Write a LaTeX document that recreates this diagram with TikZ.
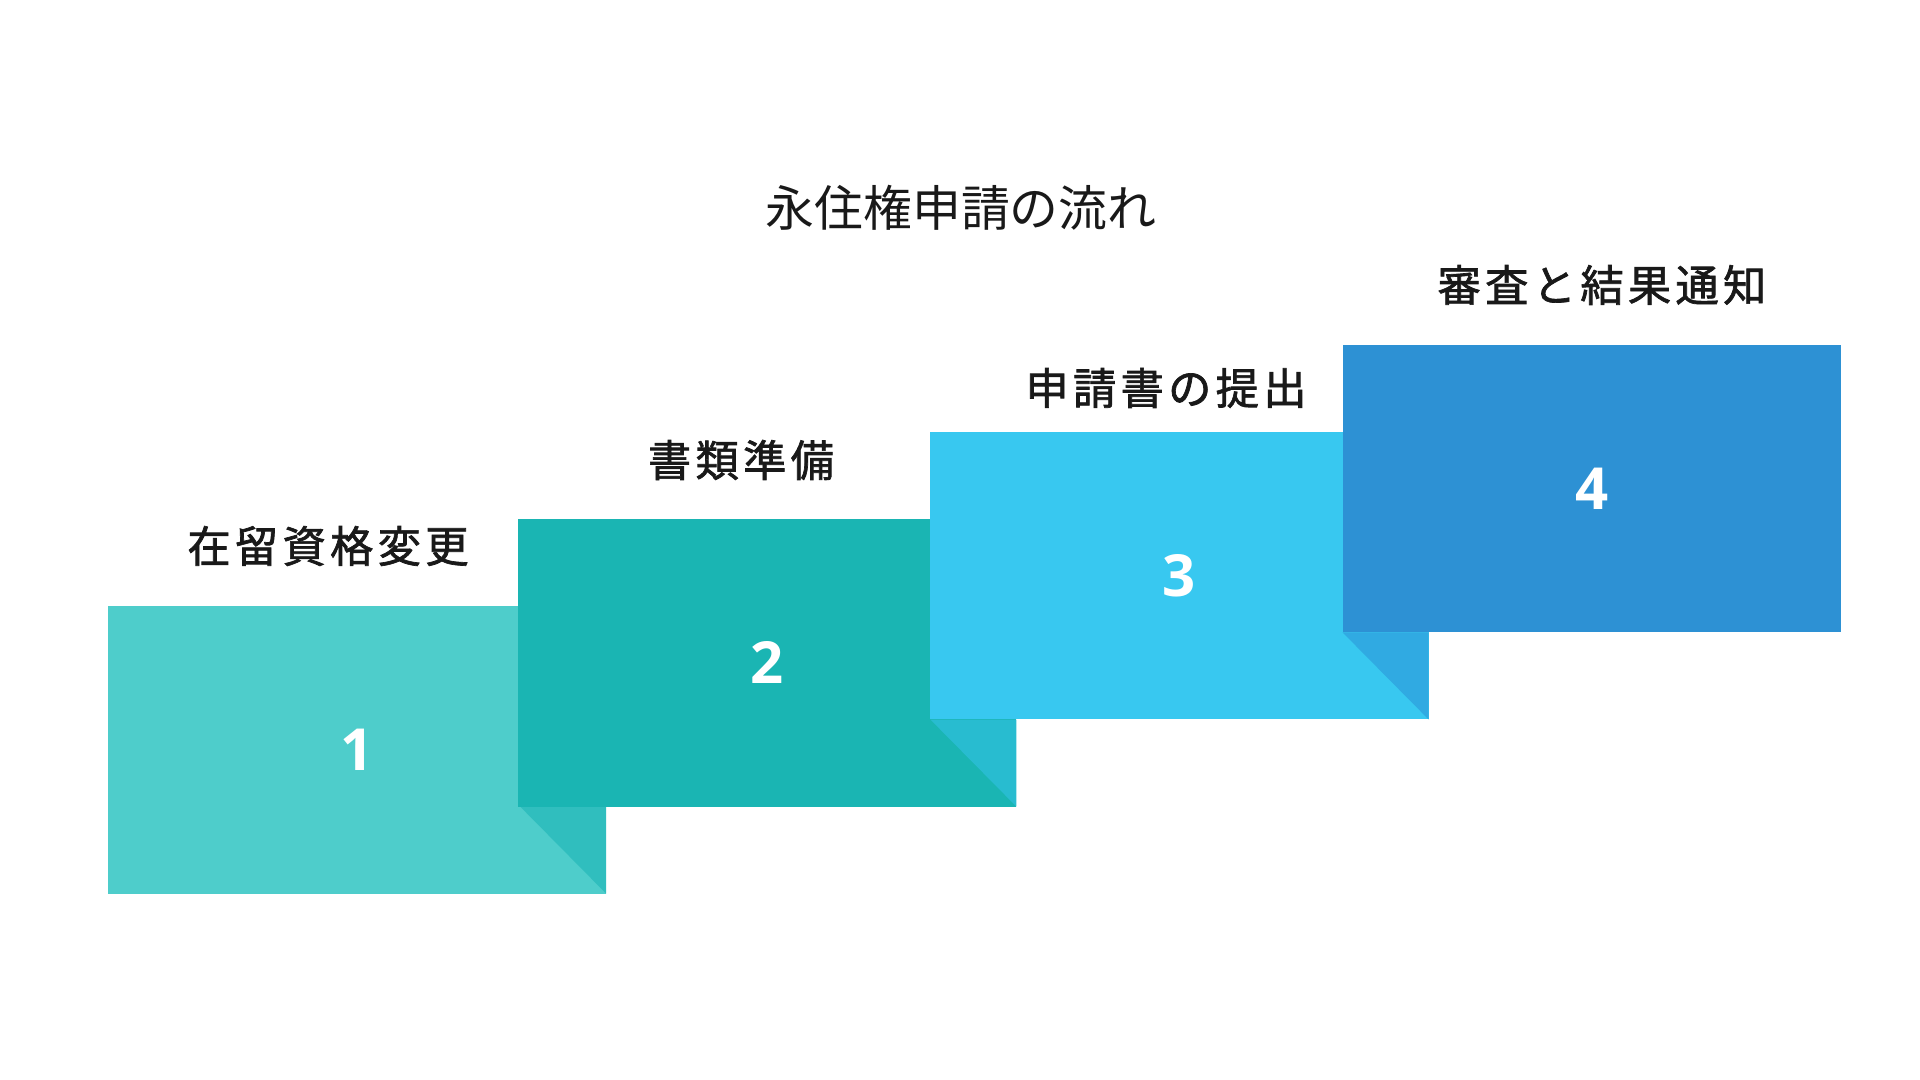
\documentclass[tikz,border=0pt]{standalone}
\usepackage{fontspec}
\newfontfamily\jpfont{Noto Sans CJK JP}
\newfontfamily\jplabel[LetterSpace=10,FakeBold=1.6]{Noto Sans CJK JP}
\newfontfamily\numfont{Open Sans}
\definecolor{stepa}{RGB}{78,205,203}
\definecolor{stepb}{RGB}{26,181,179}
\definecolor{stepc}{RGB}{56,200,240}
\definecolor{stepd}{RGB}{45,145,212}
\definecolor{folda}{RGB}{48,190,190}
\definecolor{foldb}{RGB}{40,188,208}
\definecolor{foldc}{RGB}{48,170,226}
\usetikzlibrary{positioning}

\begin{document}
\begin{tikzpicture}[x=0.01cm, y=-0.01cm,
    stepbox/.style={minimum width=4.98cm, minimum height=2.87cm,
        inner sep=0pt, outer sep=0pt, text=white,
        font=\numfont\bfseries\fontsize{16.5}{18}\selectfont},
    steplabel/.style={inner sep=0pt, text=black!90,
        font=\jplabel\fontsize{12.3}{14}\selectfont},
    title/.style={inner sep=0pt, text=black!90,
        font=\jpfont\fontsize{13.9}{16}\selectfont}
  ]
  \useasboundingbox[fill=white] (0,0) rectangle (1920,1080);
  \node[title] (ttl) at (961,208) {永住権申請の流れ};
  \node[stepbox, fill=stepa] (s1) at (357,750) {1};
  \fill[folda] (s1.south east) -- ++(0,-87) -- ++(-86,0) -- cycle;
  \node[stepbox, fill=stepb, right=-0.88cm of s1, yshift=0.87cm] (s2) {2};
  \fill[foldb] (s2.south east) -- ++(0,-87) -- ++(-86,0) -- cycle;
  \node[stepbox, fill=stepc, right=-0.86cm of s2, yshift=0.87cm] (s3) {3};
  \fill[foldc] (s3.south east) -- ++(0,-87) -- ++(-86,0) -- cycle;
  \node[stepbox, fill=stepd, right=-0.86cm of s3, yshift=0.87cm] (s4) {4};
  \node[steplabel] (l1) at (328,546) {在留資格変更};
  \node[steplabel] (l2) at (741,460) {書類準備};
  \node[steplabel] (l3) at (1166,388) {申請書の提出};
  \node[steplabel] (l4) at (1602,285) {審査と結果通知};
\end{tikzpicture}
\end{document}
